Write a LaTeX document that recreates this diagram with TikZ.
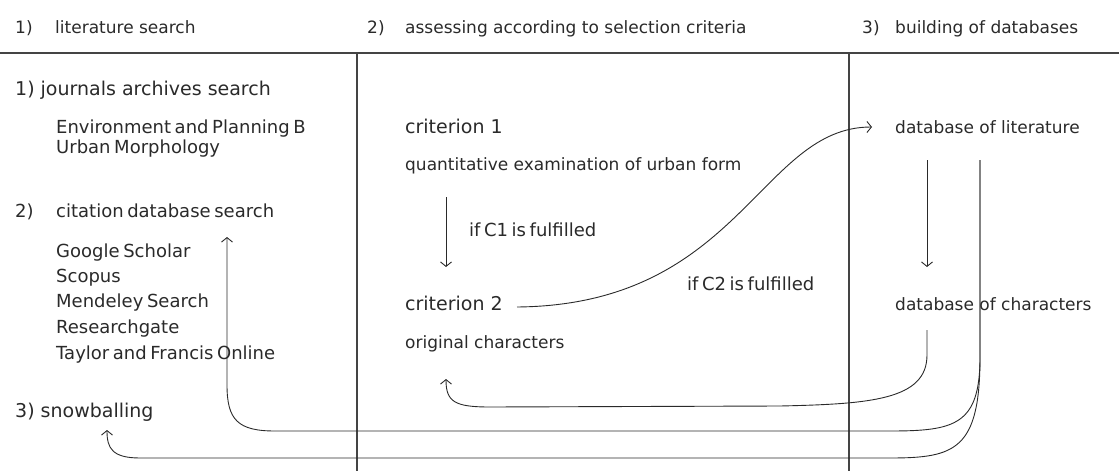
\documentclass[tikz,border=0pt]{standalone}
\usepackage{fontspec}
\setmainfont{DejaVu Sans}
\usetikzlibrary{arrows.meta}
\definecolor{ink}{HTML}{2A2A2A}
\definecolor{rule}{HTML}{444444}
\newcommand\mytightsp{\spaceskip=0.2em plus 0.1em\relax}
\tikzset{
  body/.style={anchor=base west, inner sep=0pt, text=ink, font=\fontsize{17}{20}\selectfont},
  bodyl/.style={body, font=\fontsize{18}{21}\selectfont\mytightsp},
  bodyxl/.style={body, font=\fontsize{19}{22}\selectfont},
  head/.style={anchor=base west, inner sep=0pt, text=ink, font=\fontsize{17}{20}\selectfont},
  lab/.style={anchor=base west, inner sep=0pt, text=ink, font=\fontsize{18}{21}\selectfont\mytightsp},
  frame/.style={draw=rule, line width=1.1pt},
  conn/.style={draw=ink, line width=0.9pt},
  arr/.style={conn, -{Straight Barb[length=4.5pt,width=11pt]}},
}
\begin{document}
\begin{tikzpicture}[x=1pt,y=-1pt]
\useasboundingbox (0,0) rectangle (1119,471);
% frame lines
\draw[frame] (0,53) -- (1119,53);
\draw[frame] (357,53) -- (357,471);
\draw[frame] (849,53) -- (849,471);
% headers
\node[head] (h1n) at (15,33) {1)};
\node[head] (h1) at (55,33) {literature search};
\node[head] (h2n) at (367,33) {2)};
\node[head] (h2) at (405,33) {assessing according to selection criteria};
\node[head] (h3n) at (862,33) {3)};
\node[head] (h3) at (895,33) {building of databases};
% left column
\node[bodyxl] (j) at (15,95) {1) journals archives search};
\node[bodyl] (epb) at (56,133) {Environment and Planning B};
\node[bodyl] (um) at (56,153) {Urban Morphology};
\node[bodyl] (c2n) at (15,217) {2)};
\node[bodyl] (cds) at (56,217) {citation database search};
\node[bodyl] (gs) at (56,257) {Google Scholar};
\node[bodyl] (sc) at (56,282) {Scopus};
\node[bodyl] (ms) at (56,307) {Mendeley Search};
\node[bodyl] (rg) at (56,333) {Researchgate};
\node[bodyl] (tf) at (56,359) {Taylor and Francis Online};
\node[bodyxl] (sb) at (15,417) {3) snowballing};
% middle column
\node[bodyxl] (cr1) at (405,133) {criterion 1};
\node[body] (q) at (405,170) {quantitative examination of urban form};
\node[lab] (if1) at (469,236) {if C1 is fulfilled};
\node[bodyxl] (cr2) at (405,310) {criterion 2};
\node[body] (oc) at (405,348) {original characters};
\node[lab] (if2) at (687,290) {if C2 is fulfilled};
% right column
\node[body] (dbl) at (895,133) {database of literature};
\node[body] (dbc) at (895,310) {database of characters};
% connector end points
\coordinate (q1) at (446,197);
\coordinate (c2top) at (446,267);
\coordinate (c2r) at (517,307);
\coordinate (dblw) at (872,127);
\coordinate (dblb1) at (927,160);
\coordinate (dbct) at (927,267);
\coordinate (dblb2) at (980,160);
\coordinate (dbcb) at (927,330);
\coordinate (ocb) at (446,379);
\coordinate (cdsb) at (227,237);
\coordinate (sbb) at (107,430);
% connectors
\draw[arr] (q1) -- (c2top);
\draw[arr] (c2r) .. controls (740,305) and (760,127) .. (dblw);
\draw[arr] (dblb1) -- (dbct);
\draw[arr] (dbcb) -- (927,355) .. controls (927,400) and (870,404) .. (780,406) -- (490,407) .. controls (455,407) and (446,402) .. (ocb);
\draw[arr] (dblb2) -- (980,357) .. controls (980,425) and (955,431) .. (890,431) -- (275,431) .. controls (238,431) and (227,420) .. (227,385) -- (cdsb);
\draw[arr] (dblb2) -- (980,357) .. controls (980,450) and (955,458) .. (890,458) -- (140,458) .. controls (112,458) and (107,448) .. (sbb);
\end{tikzpicture}
\end{document}
